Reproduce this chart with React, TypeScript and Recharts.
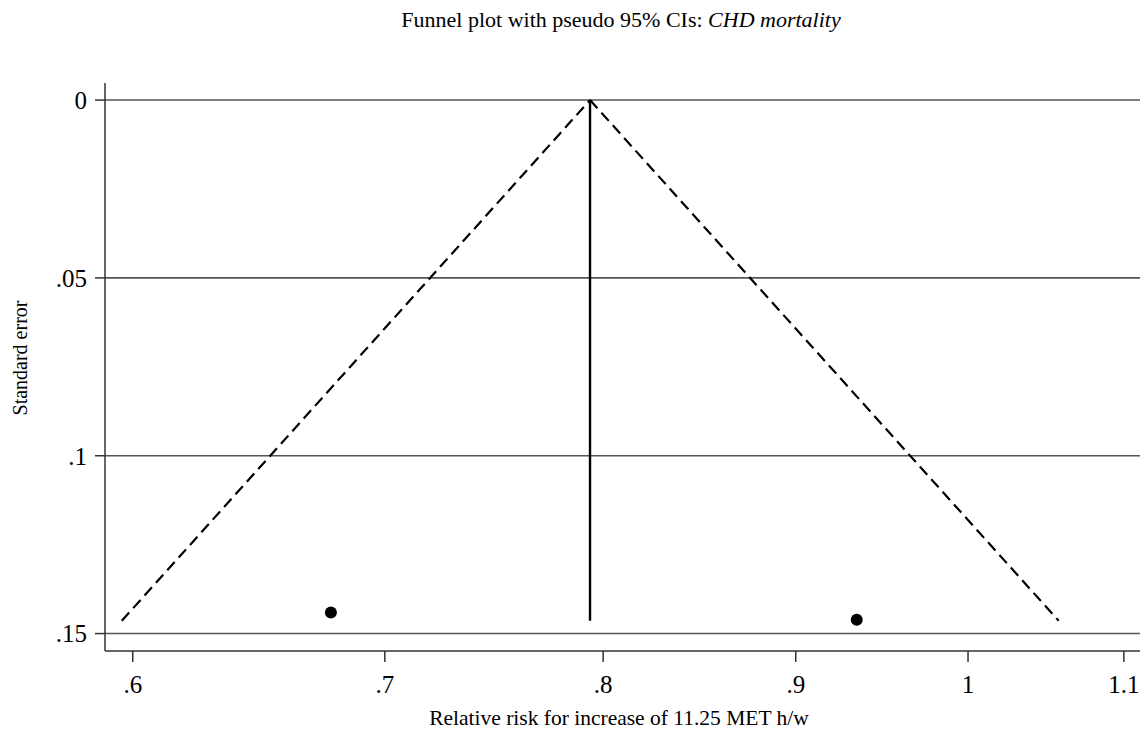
import React from "react";
import { ComposedChart, Scatter, XAxis, YAxis, ReferenceLine } from "recharts";

// Relative risk (x, log scale) vs standard error (y, reversed)
const xTicks = [0.6, 0.7, 0.8, 0.9, 1, 1.1];
const yTicks = [0, 0.05, 0.1, 0.15];

const studies = [
  { rr: 0.6773, se: 0.1441 },
  { rr: 0.9342, se: 0.1461 },
];

const pooledLine = [
  { rr: 0.7936, se: 0 },
  { rr: 0.7936, se: 0.1464 },
];

const funnelLeft = [
  { rr: 0.596, se: 0.1464 },
  { rr: 0.7936, se: 0 },
];

const funnelRight = [
  { rr: 0.7936, se: 0 },
  { rr: 1.057, se: 0.1464 },
];

const fmt = (v: number) => {
  const s = String(Math.round(v * 1000) / 1000);
  return s.startsWith("0.") ? s.slice(1) : s;
};

const FONT = "'Liberation Serif', 'Times New Roman', serif";
const noShape = () => <g />;
const dot = (p: any) => <circle cx={p.cx} cy={p.cy} r={6} fill="#000" />;

export default function App() {
  return (
    <div style={{ position: "absolute", left: 0, top: 0, width: 1146, height: 733, background: "#fff" }}>
      <ComposedChart
        width={1146}
        height={733}
        margin={{ top: 83, right: 6, bottom: 22, left: 45 }}
      >
        <XAxis
          type="number"
          dataKey="rr"
          scale="log"
          domain={[0.5899, 1.1109]}
          allowDataOverflow
          ticks={xTicks}
          tickFormatter={fmt}
          height={60}
          tickSize={11}
          tickMargin={13}
          stroke="#333"
          strokeWidth={1.5}
          tick={{ fontSize: 25, fontFamily: FONT, fill: "#000" }}
        />
        <YAxis
          type="number"
          dataKey="se"
          reversed
          domain={[-0.0048, 0.1549]}
          allowDataOverflow
          ticks={yTicks}
          tickFormatter={fmt}
          width={60}
          tickSize={10}
          tickMargin={8}
          stroke="#333"
          strokeWidth={1.5}
          tick={{ fontSize: 25, fontFamily: FONT, fill: "#000" }}
        />
        {yTicks.map((t) => (
          <ReferenceLine key={t} y={t} stroke="#555" strokeWidth={1.6} />
        ))}
        <Scatter
          data={funnelLeft}
          line={{ stroke: "#000", strokeWidth: 2.2, strokeDasharray: "11 6" }}
          shape={noShape}
          isAnimationActive={false}
        />
        <Scatter
          data={funnelRight}
          line={{ stroke: "#000", strokeWidth: 2.2, strokeDasharray: "11 6" }}
          shape={noShape}
          isAnimationActive={false}
        />
        <Scatter
          data={pooledLine}
          line={{ stroke: "#000", strokeWidth: 2.4 }}
          shape={noShape}
          isAnimationActive={false}
        />
        <Scatter data={studies} shape={dot} fill="#000" isAnimationActive={false} />
      </ComposedChart>
      <svg
        width={1146}
        height={733}
        style={{ position: "absolute", left: 0, top: 0, pointerEvents: "none" }}
      >
        <text x={621} y={27} textAnchor="middle" fontFamily={FONT} fontSize={22} fill="#000">
          {"Funnel plot with pseudo 95% CIs: "}
          <tspan fontStyle="italic">CHD mortality</tspan>
        </text>
        <text x={619} y={725} textAnchor="middle" fontFamily={FONT} fontSize={21.5} fill="#000">
          Relative risk for increase of 11.25 MET h/w
        </text>
        <text
          x={0}
          y={0}
          transform="translate(27,358) rotate(-90)"
          textAnchor="middle"
          fontFamily={FONT}
          fontSize={20}
          fill="#000"
        >
          Standard error
        </text>
      </svg>
    </div>
  );
}
